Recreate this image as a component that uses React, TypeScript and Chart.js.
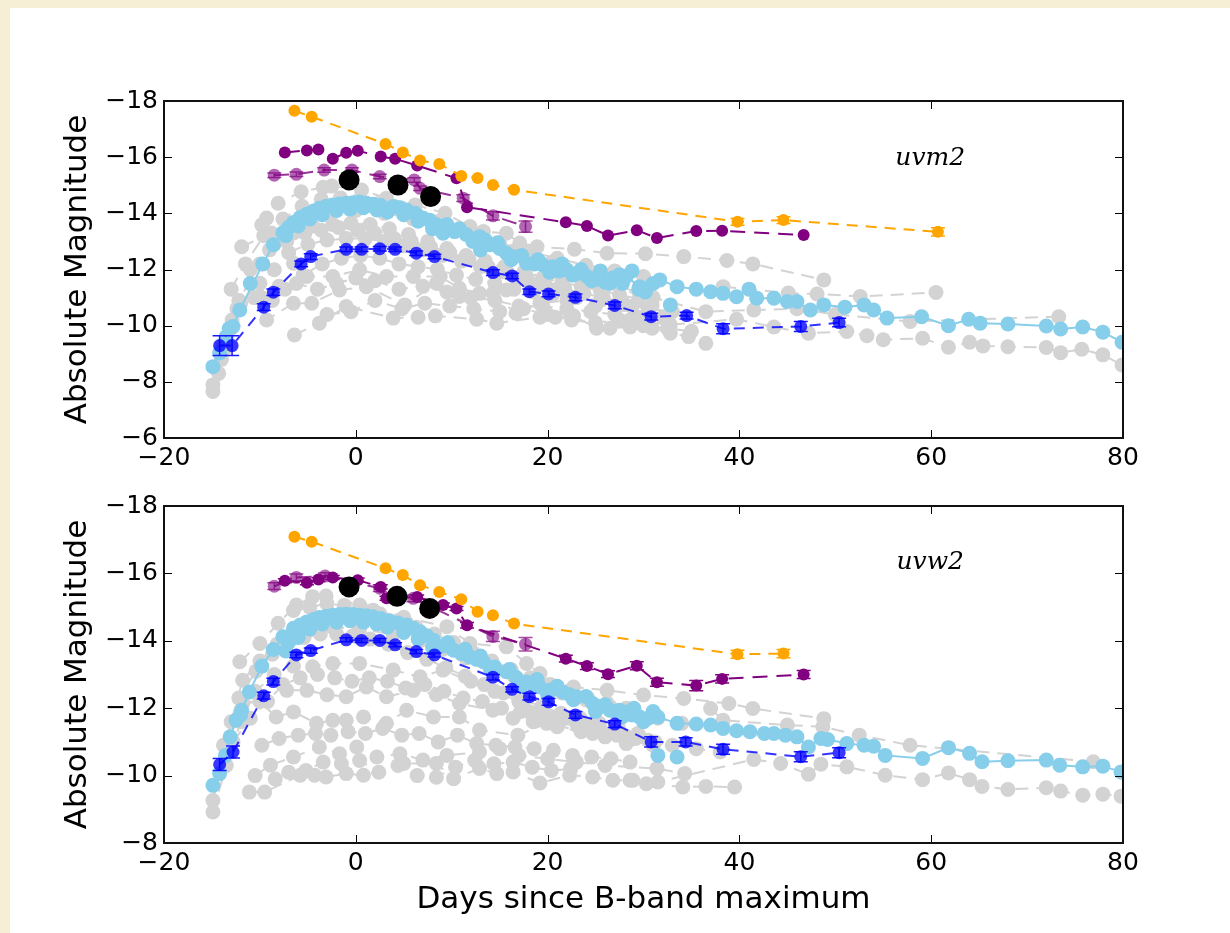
import React, { useEffect, useRef } from 'react';
import { Chart, registerables } from 'chart.js';
Chart.register(...registerables);

// ---------------- TOP PANEL (uvm2) ----------------
const blackTopD = [-0.7, 4.4, 7.8];
const blackTopM = [-15.19, -15.01, -14.60];

const orangeTopD = [-6.4, -4.6, 3.1, 4.9, 6.7, 8.7, 11.0, 12.7, 14.3, 16.5, 39.8, 44.6, 60.7];
const orangeTopM = [-17.65, -17.44, -16.47, -16.17, -15.88, -15.76, -15.33, -15.26, -15.01, -14.84, -13.70, -13.76, -13.34];
const orangeTopE = [0, 0, 0, 0, 0, 0, 0, 0, 0, 0, 0.12, 0.12, 0.15];

const purpleTopD = [-7.4, -5.1, -3.9, -2.4, -1.0, 0.2, 2.6, 4.1, 6.4, 10.5, 11.6, 21.9, 24.1, 26.3, 29.3, 31.4, 35.5, 38.2, 46.7];
const purpleTopM = [-16.17, -16.24, -16.27, -15.94, -16.16, -16.23, -16.02, -15.94, -15.70, -15.25, -14.22, -13.68, -13.55, -13.21, -13.40, -13.12, -13.37, -13.38, -13.23];

const purpleSemiTopD = [-8.5, -6.2, -3.3, -0.4, 2.5, 6.1, 6.7, 11.2, 14.3, 17.7];
const purpleSemiTopM = [-15.36, -15.39, -15.54, -15.54, -15.31, -15.19, -14.89, -14.54, -13.91, -13.53];
const purpleSemiTopE = [0.08, 0.08, 0.08, 0.08, 0.08, 0.08, 0.08, 0.12, 0.15, 0.2];

const blueTopD = [-14.2, -12.9, -9.6, -8.6, -5.7, -4.7, -1.0, 0.6, 2.5, 4.1, 6.3, 8.2, 14.3, 16.3, 18.1, 20.1, 22.9, 27.0, 30.8, 34.5, 38.3, 46.4, 50.4];
const blueTopM = [-9.29, -9.29, -10.66, -11.19, -12.20, -12.46, -12.72, -12.72, -12.74, -12.72, -12.58, -12.46, -11.89, -11.77, -11.21, -11.13, -11.01, -10.72, -10.32, -10.36, -9.89, -9.97, -10.11];
const blueTopE = [0.35, 0.35, 0.12, 0.12, 0.1, 0.1, 0.08, 0.08, 0.08, 0.08, 0.08, 0.08, 0.1, 0.1, 0.1, 0.1, 0.12, 0.12, 0.12, 0.12, 0.18, 0.18, 0.15];

const skyTopD = [-14.9, -14.2, -13.5, -12.8, -12.1, -9.7, -8.6, -7.6, -7.0, -6.5, -5.8, -5.1, -4.4, -3.8, -3.1, -2.4, -1.7, -1.0, -0.3, 0.4, 1.1, 1.8, 2.6, 3.9, 4.6, 5.3, 6.2, 7.0, 7.7, 8.4, 9.1, 10.3, 11.5, 12.9, 13.5, 14.0, 15.0, 15.7, 16.5, 17.8, 18.6, 19.5, 20.5, 21.2, 22.0, 23.0, 24.1, 25.0, 26.0, 26.5, 27.5, 28.2, 29.6, 31.7, 33.5, 35.5, 37.0, 38.3, 39.7, 41.0, 41.8, 43.6, 45.0, 46.0, 47.4, 48.8, 51.0, 53.0, 54.0, 55.4, 59.0, 61.8, 63.9, 65.1, 68.0, 72.0, 73.5, 75.8, 77.9, 79.9];
const skyTopM = [-8.54, -9.03, -9.61, -9.97, -10.56, -12.20, -12.88, -13.31, -13.50, -13.67, -13.85, -13.97, -14.08, -14.18, -14.25, -14.30, -14.33, -14.36, -14.38, -14.40, -14.36, -14.32, -14.28, -14.24, -14.20, -14.12, -14.00, -13.83, -13.75, -13.59, -13.29, -13.35, -13.25, -13.17, -13.05, -12.88, -12.75, -12.58, -12.45, -12.22, -12.20, -12.16, -12.10, -11.95, -11.99, -11.85, -11.75, -11.65, -11.55, -11.51, -11.81, -11.75, -11.39, -11.63, -11.39, -11.30, -11.21, -11.15, -11.03, -11.30, -10.98, -10.98, -10.86, -10.86, -10.56, -10.74, -10.66, -10.74, -10.56, -10.27, -10.32, -10.00, -10.23, -10.09, -10.06, -9.99, -9.88, -9.95, -9.77, -9.41];
const skyBTopD = [-13.2, -11.0, -7.3, -6.0, -4.8, -3.5, -2.0, -0.6, 0.8, 2.2, 3.3, 5.0, 6.5, 8.0, 9.5, 10.8, 12.2, 13.0, 14.8, 16.2, 17.3, 19.0, 20.2, 21.5, 22.6, 23.5, 24.6, 25.5, 26.8, 27.8, 28.8, 29.5, 30.2, 31.0, 32.8];
const skyBTopM = [-9.9, -11.5, -13.2, -13.55, -13.8, -13.95, -14.1, -14.15, -14.2, -14.12, -14.05, -13.95, -13.72, -13.45, -13.6, -13.45, -13.0, -12.7, -12.95, -12.35, -12.5, -12.35, -11.9, -12.2, -11.8, -12.0, -11.6, -11.95, -11.7, -11.5, -11.95, -11.3, -11.2, -11.5, -10.74];

const grayTop: [number[], number[]][] = [
  [[-9.8, -9.3, -8.1, -5.7, -3.4, -2.5, 0.6, 3.2, 6.2, 9.3, 11.9, 13.3, 15.7, 17.1, 18.9, 22.8, 26.2, 30.2, 34.2, 38.7, 41.4, 48.8],
   [-13.59, -13.83, -14.36, -14.77, -14.93, -14.97, -14.83, -14.54, -14.30, -14.00, -13.53, -13.35, -13.29, -12.94, -12.81, -12.72, -12.58, -12.56, -12.46, -12.32, -12.20, -11.63]],
  [[-11.9, -8.8, -6.0, -3.0, 0.0, 3.0, 6.0, 9.0, 12.0, 15.0, 18.0, 21.0, 24.0, 27.0, 30.0],
   [-12.81, -13.30, -13.75, -14.00, -14.10, -14.00, -13.80, -13.55, -13.25, -12.95, -12.65, -12.40, -12.15, -11.95, -11.75]],
  [[-14.9, -14.3, -13.6, -12.9, -12.2, -10.0, -8.5, -6.5, -4.5, -2.4, -0.5, 1.5, 3.5, 5.5, 7.5, 9.5, 11.5, 13.5, 15.5, 17.5, 19.5, 21.5, 23.5, 25.5, 27.5, 29.5],
   [-7.66, -8.30, -9.20, -10.20, -10.90, -12.20, -12.90, -13.30, -13.55, -13.60, -13.65, -13.60, -13.45, -13.25, -13.00, -12.75, -12.50, -12.30, -12.10, -11.90, -11.70, -11.55, -11.40, -11.25, -11.10, -10.95]],
  [[-14.9, -14.0, -13.0, -12.0, -10.0, -8.5, -6.5, -5.1, -2.4, 0.4, 3.2, 6.0, 8.8, 10.8, 12.9, 15.7, 17.8, 20.6, 24.8, 29.6],
   [-7.89, -8.80, -9.90, -10.80, -11.51, -11.99, -12.22, -11.75, -11.75, -11.99, -11.75, -11.75, -11.75, -11.33, -11.15, -11.27, -11.75, -11.93, -11.75, -11.15]],
  [[-10.0, -9.3, -6.5, -4.6, -1.7, 1.1, 5.1, 8.4, 10.8, 14.3, 16.7, 19.2, 22.0, 25.0, 28.8, 30.9],
   [-11.04, -10.20, -10.80, -10.80, -11.27, -11.39, -10.74, -11.51, -11.04, -11.15, -10.44, -10.80, -10.90, -10.70, -10.68, -10.72]],
  [[-6.4, -3.8, -1.0, 3.9, 6.5, 8.3, 12.6, 14.7, 19.2, 20.8, 22.7, 25.1, 26.5, 28.6, 30.9, 32.8, 34.7, 36.5],
   [-9.67, -10.09, -10.68, -10.27, -10.30, -10.35, -10.23, -10.09, -10.30, -10.30, -10.35, -9.91, -9.91, -9.95, -9.91, -9.73, -9.61, -9.37]],
  [[28.6, 32.8, 39.7, 43.6, 47.2, 51.2, 53.3, 55.0, 59.1, 61.8, 64.0, 65.4, 68.0, 72.0, 73.5, 75.7, 77.9, 79.9],
   [-10.20, -10.03, -10.23, -9.95, -9.73, -9.79, -9.64, -9.50, -9.55, -9.23, -9.41, -9.28, -9.25, -9.22, -9.04, -9.16, -8.96, -8.60]],
  [[20.0, 26.0, 31.0, 36.5, 41.5, 46.0, 50.0, 57.8, 73.3],
   [-11.90, -11.40, -11.00, -10.50, -10.56, -10.60, -10.40, -10.15, -10.32]],
  [[38.3, 45.1, 48.1, 52.6, 60.5],
   [-11.39, -11.16, -11.13, -11.04, -11.18]],
  [[-7.0, -5.0, -3.0, -1.0, 1.0, 3.0, 5.0, 7.0, 9.0, 11.0, 13.0, 15.0, 17.0, 19.0, 21.0],
   [-12.60, -12.90, -13.05, -13.10, -13.10, -13.00, -12.85, -12.70, -12.50, -12.30, -12.10, -11.90, -11.70, -11.50, -11.30]],
  [[-13.8, -11.0, -9.0, -7.2, -5.3, -3.6, -1.8, 0.2, 2.0, 4.0, 5.8, 7.8, 9.8, 11.8, 13.8, 15.8, 17.8, 19.8, 21.8, 23.8, 25.8, 27.8],
   [-9.3, -12.0, -12.7, -13.0, -13.3, -13.4, -13.5, -13.4, -13.3, -13.1, -13.0, -12.8, -12.6, -12.35, -12.1, -11.9, -11.65, -11.45, -11.3, -11.15, -11.0, -10.85]],
  [[-12.4, -10.6, -8.0, -6.2, -4.0, -2.0, 0.0, 2.0, 4.5, 7.0, 9.5, 12.0, 14.5, 17.0, 19.5, 22.0, 24.5, 27.0, 29.5, 32.0],
   [-10.6, -11.0, -11.4, -11.5, -11.3, -11.5, -11.7, -11.6, -11.3, -11.4, -11.2, -11.0, -10.9, -10.7, -10.7, -10.6, -10.5, -10.4, -10.3, -10.3]],
  [[-8.7, -7.4, -5.5, -3.5, -1.5, 0.5, 2.5, 4.5, 6.5, 8.5, 10.5, 12.5, 14.5, 16.5, 18.5, 20.5, 23.0, 25.5, 28.0, 30.5, 33.0],
   [-10.9, -11.3, -11.8, -12.2, -12.4, -12.5, -12.4, -12.2, -12.1, -12.0, -11.8, -11.65, -11.5, -11.3, -11.2, -11.1, -11.0, -10.9, -10.75, -10.6, -10.5]],
  [[-13.0, -11.5, -9.6, -7.6, -5.6, -3.6, -1.6, 0.4, 2.4, 4.4, 6.4, 8.4, 10.4, 12.4, 14.4, 16.4, 18.4, 20.4],
   [-11.3, -12.2, -13.2, -13.8, -14.25, -14.5, -14.55, -14.5, -14.35, -14.15, -13.95, -13.7, -13.4, -13.15, -12.9, -12.65, -12.45, -12.25]],
  [[-3.0, -0.5, 2.0, 4.8, 7.2, 9.8, 12.3, 15.0, 17.5, 20.0, 22.5, 25.0, 27.5, 30.0, 32.5, 35.0],
   [-10.4, -10.5, -10.9, -10.6, -10.8, -10.7, -10.6, -10.5, -10.6, -10.4, -10.2, -10.1, -10.2, -10.0, -9.9, -9.8]],
];

// ---------------- BOTTOM PANEL (uvw2) ----------------
const blackBotD = [-0.7, 4.3, 7.7];
const blackBotM = [-15.60, -15.32, -14.96];

const orangeBotD = [-6.4, -4.6, 3.1, 4.9, 6.7, 8.7, 11.0, 12.7, 14.3, 16.5, 39.8, 44.6];
const orangeBotM = [-17.09, -16.94, -16.15, -15.95, -15.65, -15.45, -15.23, -14.86, -14.76, -14.51, -13.60, -13.62];
const orangeBotE = [0, 0, 0, 0, 0, 0, 0, 0, 0, 0, 0.12, 0.12];

const purpleBotD = [-7.4, -5.1, -3.9, -2.4, 0.2, 2.6, 3.2, 6.4, 9.1, 10.5, 11.6, 21.9, 24.1, 26.3, 29.3, 31.4, 35.5, 38.2, 46.7];
const purpleBotM = [-15.78, -15.72, -15.82, -15.88, -15.80, -15.60, -15.26, -15.30, -15.06, -14.96, -14.46, -13.47, -13.25, -13.01, -13.26, -12.77, -12.67, -12.87, -13.00];
const purpleBotE = [0.06, 0.06, 0.06, 0.06, 0.06, 0.06, 0.06, 0.06, 0.06, 0.06, 0.08, 0.1, 0.1, 0.1, 0.12, 0.12, 0.15, 0.12, 0.12];

const purpleSemiBotD = [-8.5, -6.2, -3.2, 2.5, 6.0, 14.3, 17.7];
const purpleSemiBotM = [-15.62, -15.88, -15.92, -15.56, -15.26, -14.13, -13.90];
const purpleSemiBotE = [0.1, 0.1, 0.1, 0.1, 0.1, 0.15, 0.2];

const blueBotD = [-14.2, -12.8, -9.6, -8.6, -6.2, -4.7, -1.0, 0.6, 2.5, 4.1, 6.3, 8.2, 14.3, 16.3, 18.1, 20.1, 22.9, 27.0, 30.8, 34.4, 38.3, 46.4, 50.4];
const blueBotM = [-10.33, -10.70, -12.37, -12.79, -13.58, -13.71, -14.03, -14.01, -14.01, -13.88, -13.68, -13.58, -12.92, -12.56, -12.34, -12.19, -11.80, -11.53, -11.00, -11.00, -10.78, -10.56, -10.68];
const blueBotE = [0.18, 0.18, 0.1, 0.1, 0.08, 0.08, 0.06, 0.06, 0.06, 0.06, 0.06, 0.06, 0.08, 0.08, 0.1, 0.1, 0.1, 0.1, 0.15, 0.12, 0.15, 0.15, 0.15];

const skyBotD = [-14.9, -14.2, -13.1, -12.5, -11.9, -11.1, -9.8, -8.6, -7.6, -7.0, -6.5, -5.8, -5.1, -4.4, -3.8, -3.1, -2.4, -1.7, -1.0, -0.3, 0.4, 1.1, 1.8, 2.6, 3.5, 4.4, 5.3, 6.0, 6.7, 7.4, 8.1, 9.2, 10.2, 11.0, 11.9, 12.6, 13.3, 14.5, 15.7, 16.7, 17.8, 18.5, 19.2, 20.4, 21.6, 22.3, 23.0, 24.7, 25.5, 26.5, 27.0, 27.5, 28.2, 28.8, 29.6, 30.5, 31.5, 33.5, 35.5, 37.0, 38.3, 39.7, 41.1, 42.6, 43.6, 44.8, 46.0, 47.2, 48.5, 49.2, 51.2, 53.0, 54.0, 55.2, 59.1, 61.8, 64.0, 65.3, 68.0, 72.0, 73.4, 75.8, 77.9, 79.8];
const skyBotM = [-9.71, -10.06, -11.15, -11.64, -11.94, -12.48, -13.25, -13.74, -14.12, -13.95, -14.37, -14.47, -14.56, -14.63, -14.69, -14.73, -14.76, -14.78, -14.79, -14.78, -14.76, -14.74, -14.71, -14.66, -14.59, -14.53, -14.47, -14.37, -14.27, -14.15, -14.02, -13.85, -13.72, -13.62, -13.52, -13.45, -13.38, -13.22, -13.08, -12.92, -12.78, -12.70, -12.63, -12.55, -12.48, -12.40, -12.34, -12.14, -12.05, -11.94, -11.90, -11.94, -11.89, -11.80, -11.74, -11.70, -11.74, -11.55, -11.53, -11.50, -11.40, -11.33, -11.30, -11.25, -11.25, -11.20, -11.15, -10.85, -11.10, -11.07, -10.95, -10.90, -10.87, -10.60, -10.51, -10.83, -10.66, -10.41, -10.44, -10.46, -10.31, -10.26, -10.28, -10.11];
const skyBBotD = [-13.6, -12.0, -7.3, -6.0, -4.8, -3.5, -2.0, -0.6, 0.8, 2.2, 3.3, 5.0, 6.5, 8.0, 9.6, 11.4, 13.0, 14.0, 16.0, 17.2, 18.9, 20.0, 21.0, 22.7, 24.0, 25.0, 26.0, 27.8, 29.0, 30.0, 31.0, 31.5, 33.5];
const skyBBotM = [-10.6, -11.8, -13.7, -14.1, -14.35, -14.5, -14.55, -14.6, -14.55, -14.5, -14.4, -14.25, -14.05, -13.8, -13.95, -13.75, -13.55, -13.2, -13.15, -12.65, -12.85, -12.4, -12.65, -12.25, -12.35, -11.9, -12.1, -11.75, -12.0, -11.6, -11.9, -10.60, -10.55];

const grayBot: [number[], number[]][] = [
  [[-12.1, -10.0, -8.1, -6.2, -4.5, -3.1, 0.4, 1.8, 5.0, 9.5, 11.9, 15.7, 17.8, 19.2, 22.7, 26.2, 30.0, 34.2, 38.9, 41.4, 48.8],
   [-13.38, -13.92, -14.52, -15.06, -15.31, -15.33, -15.06, -14.91, -14.70, -14.42, -13.92, -13.82, -13.33, -13.03, -12.63, -12.53, -12.39, -12.29, -12.14, -11.99, -11.69]],
  [[-14.9, -13.0, -11.8, -10.0, -8.2, -6.2, -4.5, -2.4, 0.4, 3.9, 6.7, 9.1, 11.5, 14.0, 16.5, 19.0, 21.5, 24.0, 26.5, 29.0, 31.5, 34.0],
   [-9.26, -11.60, -12.83, -13.40, -13.90, -14.20, -14.35, -14.40, -14.35, -14.20, -14.00, -13.75, -13.50, -13.20, -12.95, -12.70, -12.45, -12.25, -12.05, -11.85, -11.70, -11.55]],
  [[-14.9, -13.5, -12.0, -10.5, -8.5, -6.5, -4.5, -2.4, 0.4, 3.9, 6.7, 9.1, 12.0, 14.5, 17.0, 19.5, 22.0, 24.5, 27.0, 29.5],
   [-8.92, -10.30, -11.60, -12.50, -13.00, -13.25, -13.23, -13.33, -13.33, -13.13, -12.93, -13.13, -12.80, -12.50, -12.20, -11.95, -11.70, -11.50, -11.35, -11.20]],
  [[-11.8, -10.0, -8.3, -6.5, -4.1, -2.4, -1.0, 0.8, 3.2, 5.3, 8.1, 10.8, 12.9, 16.9, 19.9, 24.7, 28.2],
   [-12.14, -12.20, -11.74, -11.89, -11.55, -11.64, -11.64, -11.74, -11.55, -11.94, -11.74, -11.74, -11.35, -11.20, -11.55, -11.25, -10.95]],
  [[-7.2, -5.1, -3.0, -1.0, 1.1, 3.2, 6.0, 8.4, 10.8, 14.3, 16.4, 18.5, 21.0, 23.5, 26.0, 28.5, 31.0],
   [-12.53, -12.53, -12.40, -12.34, -12.63, -12.34, -12.53, -12.40, -12.14, -11.94, -11.70, -11.60, -11.45, -11.30, -11.15, -11.05, -10.90]],
  [[-10.5, -8.9, -6.5, -3.8, -1.7, 0.1, 2.2, 4.6, 7.0, 9.5, 12.9, 15.0, 17.0, 20.0, 23.0, 26.0, 31.4, 34.3],
   [-10.00, -10.31, -10.55, -10.85, -10.65, -10.85, -10.55, -10.65, -10.46, -10.60, -10.70, -10.80, -10.60, -10.50, -10.40, -10.30, -10.21, -10.06]],
  [[-11.1, -9.5, -5.8, -4.3, -3.1, -1.0, 0.8, 5.0, 8.4, 10.2, 12.9, 14.7, 16.4, 19.2, 22.3, 24.7, 26.8, 28.9, 30.3, 34.1, 36.5, 39.5],
   [-9.51, -9.51, -10.01, -10.01, -9.96, -10.06, -10.01, -10.36, -10.36, -9.91, -10.21, -10.06, -10.11, -9.78, -10.01, -9.96, -9.86, -9.86, -9.76, -9.66, -9.68, -9.66]],
  [[28.6, 31.5, 41.5, 44.3, 47.2, 48.5, 51.2, 55.2, 59.1, 61.8, 64.0, 65.3, 68.0, 72.0, 73.5, 75.8, 77.9, 79.8],
   [-9.86, -9.81, -10.48, -10.36, -10.04, -10.34, -10.26, -10.01, -9.88, -10.08, -9.88, -9.68, -9.59, -9.64, -9.54, -9.42, -9.45, -9.39]],
  [[37.0, 38.3, 45.0, 48.7, 52.5, 57.8, 76.9],
   [-11.99, -11.64, -11.50, -11.45, -11.20, -10.90, -10.41]],
  [[-13.8, -12.2, -10.4, -8.7, -7.0, -5.4, -3.7, -2.0, -0.3, 1.5, 3.4, 5.4, 7.4, 9.4, 11.4, 13.4, 15.4, 17.4, 19.4, 21.4, 23.4, 25.4, 27.4, 29.4],
   [-10.9, -12.3, -13.1, -13.6, -14.0, -14.1, -14.2, -14.2, -14.15, -14.05, -13.9, -13.65, -13.45, -13.2, -12.95, -12.7, -12.45, -12.25, -12.05, -11.85, -11.7, -11.55, -11.4, -11.25]],
  [[-12.8, -11.0, -9.2, -7.6, -5.8, -4.0, -2.2, -0.4, 1.4, 3.3, 5.2, 7.2, 9.2, 11.2, 13.2, 15.2, 17.2, 19.2, 21.2, 23.2, 25.2, 27.2, 29.2, 31.2],
   [-11.0, -11.7, -12.2, -12.7, -12.9, -13.0, -12.9, -12.8, -12.9, -12.8, -12.6, -12.7, -12.5, -12.3, -12.2, -12.0, -11.9, -11.7, -11.6, -11.45, -11.35, -11.2, -11.1, -11.0]],
  [[-9.8, -8.0, -6.0, -4.2, -2.6, -0.8, 1.0, 2.8, 4.8, 6.6, 8.6, 10.6, 12.6, 14.6, 16.6, 18.6, 20.6, 22.6, 24.6, 26.6, 28.6],
   [-10.9, -11.1, -11.2, -11.25, -11.2, -11.3, -11.25, -11.4, -11.2, -11.25, -11.0, -11.2, -10.95, -10.9, -10.85, -10.8, -10.75, -10.6, -10.55, -10.5, -10.4]],
  [[-8.4, -7.0, -5.2, -3.4, -1.5, 0.4, 2.4, 4.4, 6.4, 8.4, 10.4, 12.4, 14.4, 16.4, 18.4, 20.4, 22.4],
   [-9.9, -10.1, -10.15, -10.4, -10.35, -10.45, -10.1, -10.3, -10.0, -9.95, -10.25, -10.45, -10.35, -10.4, -10.25, -10.15, -10.2]],
  [[-6.5, -4.8, -3.0, -1.2, 0.6, 2.5, 4.4, 6.3, 8.2, 10.2, 12.2, 14.2, 16.2, 18.2, 20.2, 22.2, 24.2, 26.2, 28.2],
   [-14.9, -15.0, -15.1, -15.05, -14.95, -14.8, -14.6, -14.4, -14.2, -13.95, -13.65, -13.4, -13.15, -12.9, -12.7, -12.5, -12.3, -12.15, -12.0]],
  [[18.0, 20.5, 23.0, 25.5, 28.0, 30.5, 33.0, 35.5, 38.0],
   [-11.9, -11.7, -11.55, -11.35, -11.2, -11.05, -10.9, -10.8, -10.7]],
];

const xTicks = [-20, 0, 20, 40, 60, 80];

// ---------------- helpers ----------------
const pts = (d: number[], m: number[]) => d.map((x, i) => ({ x, y: m[i] }));

function series(d: number[], m: number[], color: string, radius: number, dash: number[], opts: any = {}) {
  return {
    data: pts(d, m),
    showLine: (opts.lineWidth ?? 2) > 0,
    borderColor: opts.lineColor || color,
    backgroundColor: color,
    pointBackgroundColor: color,
    pointBorderColor: color,
    pointBorderWidth: 0,
    pointRadius: radius,
    pointHoverRadius: radius,
    borderWidth: opts.lineWidth ?? 2,
    borderDash: dash,
    fill: false,
    tension: 0,
    yErr: opts.yErr,
    errColor: opts.errColor || color,
  };
}

const minusFmt = (v: any) => String(v).replace('-', '\u2212');

const errPlugin = {
  id: 'errbars',
  beforeDatasetDraw(chart: any, args: any) {
    const ds = chart.data.datasets[args.index];
    if (!ds.yErr) return;
    const { ctx } = chart;
    const xs = chart.scales.x;
    const ys = chart.scales.y;
    const ca = chart.chartArea;
    ctx.save();
    ctx.beginPath();
    ctx.rect(ca.left, ca.top, ca.right - ca.left, ca.bottom - ca.top);
    ctx.clip();
    ctx.strokeStyle = ds.errColor;
    ctx.lineWidth = 1.5;
    ds.data.forEach((p: any, i: number) => {
      const e = ds.yErr[i];
      if (!e) return;
      const px = xs.getPixelForValue(p.x);
      const y1 = ys.getPixelForValue(p.y - e);
      const y2 = ys.getPixelForValue(p.y + e);
      ctx.beginPath();
      ctx.moveTo(px, y1);
      ctx.lineTo(px, y2);
      ctx.moveTo(px - 7, y1);
      ctx.lineTo(px + 7, y1);
      ctx.moveTo(px - 7, y2);
      ctx.lineTo(px + 7, y2);
      ctx.stroke();
    });
    ctx.restore();
  },
};

const framePlugin = {
  id: 'frame',
  afterDraw(chart: any) {
    const { ctx, chartArea: ca } = chart;
    const xs = chart.scales.x;
    const ys = chart.scales.y;
    ctx.save();
    ctx.strokeStyle = '#000';
    ctx.lineWidth = 1;
    const L = 8;
    xs.ticks.forEach((t: any) => {
      const px = Math.round(xs.getPixelForValue(t.value)) + 0.5;
      ctx.beginPath();
      ctx.moveTo(px, ca.bottom);
      ctx.lineTo(px, ca.bottom - L);
      ctx.moveTo(px, ca.top);
      ctx.lineTo(px, ca.top + L);
      ctx.stroke();
    });
    ys.ticks.forEach((t: any) => {
      const py = Math.round(ys.getPixelForValue(t.value)) + 0.5;
      ctx.beginPath();
      ctx.moveTo(ca.left, py);
      ctx.lineTo(ca.left + L, py);
      ctx.moveTo(ca.right, py);
      ctx.lineTo(ca.right - L, py);
      ctx.stroke();
    });
    ctx.strokeStyle = '#111';
    ctx.lineWidth = 2;
    ctx.strokeRect(ca.left, ca.top, ca.right - ca.left, ca.bottom - ca.top);
    ctx.restore();
  },
};

function labelPlugin(text: string, x: number, y: number) {
  return {
    id: 'bandlabel',
    afterDatasetsDraw(chart: any) {
      const { ctx } = chart;
      const px = chart.scales.x.getPixelForValue(x);
      const py = chart.scales.y.getPixelForValue(y);
      ctx.save();
      ctx.font = 'italic 25px "DejaVu Serif"';
      ctx.fillStyle = '#000';
      ctx.textAlign = 'center';
      ctx.textBaseline = 'middle';
      ctx.fillText(text, px, py);
      ctx.restore();
    },
  };
}

function buildDatasets(p: any) {
  const list: any[] = [];
  list.push(series(p.blackD, p.blackM, '#000000', 10.5, [], { lineWidth: 0 }));
  list.push(series(p.orangeD, p.orangeM, '#FFA500', 6, [11, 8], { yErr: p.orangeE }));
  list.push(series(p.purpleD, p.purpleM, '#800080', 6, [15, 9], { yErr: p.purpleE }));
  list.push(series(p.purpleSemiD, p.purpleSemiM, 'rgba(128,0,128,0.6)', 6.5, [15, 9], { yErr: p.purpleSemiE, lineColor: 'rgba(128,0,128,0.8)', errColor: 'rgba(128,0,128,0.7)' }));
  list.push(series(p.blueD, p.blueM, 'rgba(0,0,255,0.78)', 6.5, [11, 8], { yErr: p.blueE, errColor: '#1a1aff', lineColor: 'rgba(0,0,255,0.8)' }));
  list.push(series(p.skyBD, p.skyBM, '#87CEEB', 7.5, [], { lineWidth: 0 }));
  list.push(series(p.skyD, p.skyM, '#87CEEB', 7.5, [], { lineWidth: 2 }));
  p.gray.forEach((g: [number[], number[]]) => {
    list.push(series(g[0], g[1], '#D3D3D3', 7.5, [13, 8], { lineWidth: 2 }));
  });
  return list;
}

function makeConfig(datasets: any[], yMin: number, yMax: number, top: number, xAxisH: number, showXTitle: boolean, label: any) {
  return {
    type: 'scatter' as const,
    data: { datasets },
    options: {
      responsive: false,
      animation: false,
      devicePixelRatio: 1,
      layout: { padding: { left: 0, right: 107, top, bottom: 0 } },
      plugins: { legend: { display: false }, tooltip: { enabled: false } },
      elements: { line: { borderCapStyle: 'butt' } },
      scales: {
        x: {
          type: 'linear',
          min: -20,
          max: 80,
          afterBuildTicks: (s: any) => { s.ticks = xTicks.map((v) => ({ value: v })); },
          afterFit: (s: any) => { s.height = xAxisH; },
          grid: { display: false, drawTicks: false },
          border: { display: false },
          ticks: { color: '#000', font: { family: 'DejaVu Sans', size: 25 }, padding: 5, maxRotation: 0, callback: minusFmt },
          title: {
            display: showXTitle,
            text: 'Days since B-band maximum',
            color: '#000',
            font: { family: 'DejaVu Sans', size: 31 },
            padding: { top: 0, bottom: 14 },
          },
        },
        y: {
          type: 'linear',
          reverse: true,
          min: yMin,
          max: yMax,
          afterFit: (s: any) => { s.width = 164; },
          grid: { display: false, drawTicks: false },
          border: { display: false },
          ticks: { stepSize: 2, color: '#000', font: { family: 'DejaVu Sans', size: 25 }, padding: 6, callback: minusFmt },
          title: {
            display: true,
            text: 'Absolute Magnitude',
            color: '#000',
            font: { family: 'DejaVu Sans', size: 31 },
            padding: { top: 59, bottom: 0 },
          },
        },
      },
    },
    plugins: [errPlugin, framePlugin, label],
  };
}

export default function App() {
  const topRef = useRef<HTMLCanvasElement>(null);
  const botRef = useRef<HTMLCanvasElement>(null);

  useEffect(() => {
    const topDs = buildDatasets({
      blackD: blackTopD, blackM: blackTopM,
      orangeD: orangeTopD, orangeM: orangeTopM, orangeE: orangeTopE,
      purpleD: purpleTopD, purpleM: purpleTopM, purpleE: undefined,
      purpleSemiD: purpleSemiTopD, purpleSemiM: purpleSemiTopM, purpleSemiE: purpleSemiTopE,
      blueD: blueTopD, blueM: blueTopM, blueE: blueTopE,
      skyBD: skyBTopD, skyBM: skyBTopM,
      skyD: skyTopD, skyM: skyTopM,
      gray: grayTop,
    });
    const botDs = buildDatasets({
      blackD: blackBotD, blackM: blackBotM,
      orangeD: orangeBotD, orangeM: orangeBotM, orangeE: orangeBotE,
      purpleD: purpleBotD, purpleM: purpleBotM, purpleE: purpleBotE,
      purpleSemiD: purpleSemiBotD, purpleSemiM: purpleSemiBotM, purpleSemiE: purpleSemiBotE,
      blueD: blueBotD, blueM: blueBotM, blueE: blueBotE,
      skyBD: skyBBotD, skyBM: skyBBotM,
      skyD: skyBotD, skyM: skyBotM,
      gray: grayBot,
    });
    const c1 = new Chart(topRef.current as HTMLCanvasElement, makeConfig(topDs, -18, -6, 101, 42, false, labelPlugin('uvm2', 59.9, -15.97)) as any);
    const c2 = new Chart(botRef.current as HTMLCanvasElement, makeConfig(botDs, -18, -8, 36, 90, true, labelPlugin('uvw2', 59.9, -16.31)) as any);
    return () => { c1.destroy(); c2.destroy(); };
  }, []);

  return (
    <div style={{ position: 'fixed', left: 0, top: 0, width: 1230, height: 933, background: '#f7eed6', overflow: 'hidden' }}>
      <div style={{ position: 'absolute', left: 10, top: 8, right: 0, bottom: 0, background: '#ffffff' }} />
      <canvas ref={topRef} width={1230} height={480} style={{ position: 'absolute', left: 0, top: 0, width: 1230, height: 480 }} />
      <canvas ref={botRef} width={1230} height={463} style={{ position: 'absolute', left: 0, top: 470, width: 1230, height: 463 }} />
    </div>
  );
}
